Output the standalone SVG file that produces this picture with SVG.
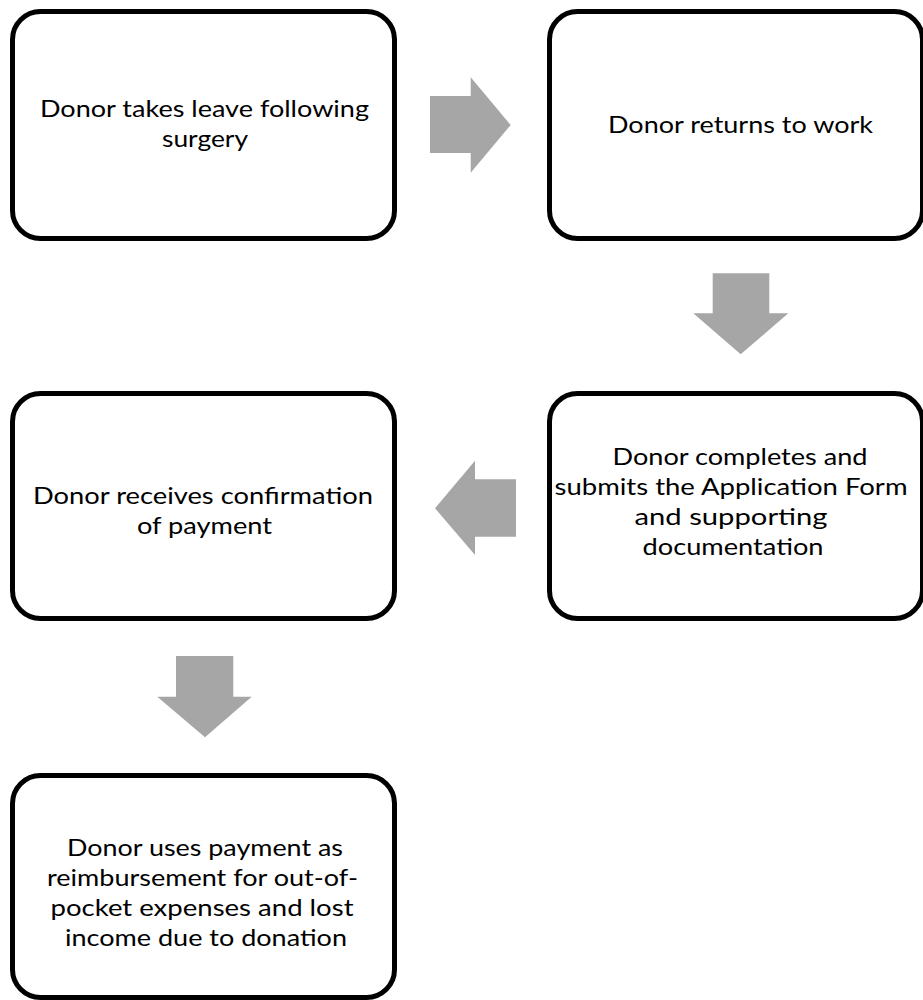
<svg xmlns="http://www.w3.org/2000/svg" width="923" height="1000" viewBox="0 0 923 1000">
<style>
.box{fill:#ffffff;stroke:#000000;stroke-width:5}
.lbl{font-family:Lato,"Liberation Sans",sans-serif;font-size:24px;fill:#000000;text-anchor:middle}
.arr{fill:#A6A6A6;stroke:none}
</style>
<rect width="923" height="1000" fill="#ffffff"/>
<g id="connectors">
<polygon class="arr" points="430,96 470.7,96 470.7,77.3 510.7,125 470.7,172.7 470.7,153 430,153"/>
<polygon class="arr" points="712.7,273.3 769.3,273.3 769.3,313.3 788.3,313.3 740.7,354.3 693.3,313.3 712.7,313.3"/>
<polygon class="arr" points="516,479.3 475,479.3 475,460.7 435,508.3 475,555 475,536.7 516,536.7"/>
<polygon class="arr" points="176,656 233.3,656 233.3,696.7 251.7,696.7 205,737.3 157.3,696.7 176,696.7"/>
</g>
<g id="node1">
<rect class="box" x="12.5" y="11.5" width="382" height="227" rx="28"/>
<text class="lbl" x="204.5" y="117" textLength="329" lengthAdjust="spacingAndGlyphs">Donor takes leave following</text>
<text class="lbl" x="205" y="147" textLength="86" lengthAdjust="spacingAndGlyphs">surgery</text>
</g>
<g id="node2">
<rect class="box" x="549.5" y="11.5" width="373" height="227" rx="28"/>
<text class="lbl" x="740.5" y="133" textLength="265" lengthAdjust="spacingAndGlyphs">Donor returns to work</text>
</g>
<g id="node3">
<rect class="box" x="549.5" y="393.5" width="373" height="225" rx="28"/>
<text class="lbl" x="740" y="465" textLength="255" lengthAdjust="spacingAndGlyphs">Donor completes and</text>
<text class="lbl" x="731" y="495" textLength="353" lengthAdjust="spacingAndGlyphs">submits the Application Form</text>
<text class="lbl" x="731" y="525" textLength="193" lengthAdjust="spacingAndGlyphs">and supporting</text>
<text class="lbl" x="733" y="555" textLength="181" lengthAdjust="spacingAndGlyphs">documentation</text>
</g>
<g id="node4">
<rect class="box" x="12.5" y="393.5" width="382" height="225" rx="28"/>
<text class="lbl" x="203" y="504" textLength="340" lengthAdjust="spacingAndGlyphs">Donor receives confirmation</text>
<text class="lbl" x="204.5" y="534" textLength="135" lengthAdjust="spacingAndGlyphs">of payment</text>
</g>
<g id="node5">
<rect class="box" x="12.5" y="775.5" width="382" height="222" rx="28"/>
<text class="lbl" x="205" y="856" textLength="276" lengthAdjust="spacingAndGlyphs">Donor uses payment as</text>
<text class="lbl" x="202.5" y="886" textLength="311" lengthAdjust="spacingAndGlyphs">reimbursement for out-of-</text>
<text class="lbl" x="202" y="916" textLength="303" lengthAdjust="spacingAndGlyphs">pocket expenses and lost</text>
<text class="lbl" x="206" y="946" textLength="282" lengthAdjust="spacingAndGlyphs">income due to donation</text>
</g>
</svg>
